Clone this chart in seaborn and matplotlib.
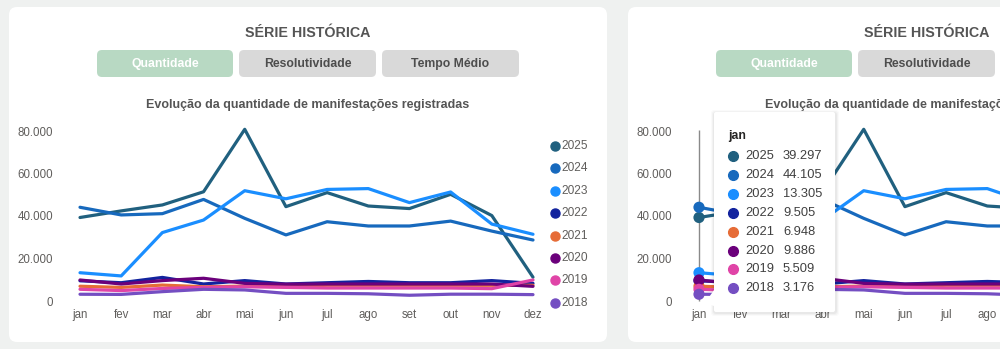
import numpy as np
import pandas as pd
import matplotlib
matplotlib.use('Agg')
import matplotlib.pyplot as plt
import seaborn as sns
from matplotlib.patches import FancyBboxPatch, Polygon
from matplotlib.lines import Line2D

# dados
meses = ['jan', 'fev', 'mar', 'abr', 'mai', 'jun', 'jul', 'ago', 'set', 'out', 'nov', 'dez']
anos = ['2025', '2024', '2023', '2022', '2021', '2020', '2019', '2018']
q2025 = [39297, 42400, 45200, 51400, 80800, 44400, 51000, 44700, 43500, 50200, 40200, 11200]
q2024 = [44105, 40500, 41100, 47800, 38900, 31100, 37300, 35300, 35300, 37600, 32900, 28700]
q2023 = [13305, 11800, 32200, 38100, 51900, 48100, 52500, 52900, 46300, 51300, 36200, 31400]
q2022 = [9505, 8600, 11100, 8000, 9600, 8000, 8600, 9200, 8600, 8600, 9600, 8300]
q2021 = [6948, 6400, 7500, 6700, 7000, 6700, 7400, 7400, 7400, 7400, 7400, 7400]
q2020 = [9886, 8000, 9600, 10700, 8300, 7900, 8000, 8000, 8000, 8000, 8000, 6900]
q2019 = [5509, 4900, 5900, 6400, 6700, 6400, 6100, 6100, 6100, 6100, 5800, 9900]
q2018 = [3176, 3100, 4400, 5500, 5200, 3600, 3600, 3400, 2700, 3200, 3200, 3000]
y_ticks = [0, 20000, 40000, 60000, 80000]
y_labels = ['0', '20.000', '40.000', '60.000', '80.000']
botoes = ['Quantidade', 'Resolutividade', 'Tempo Médio']

cores = ['#20607f', '#1769bd', '#1a8eff', '#12239e', '#e66c37', '#6b007b', '#e044a7', '#744ec2']
pal = dict(zip(anos, cores))

series = [q2025, q2024, q2023, q2022, q2021, q2020, q2019, q2018]
df = pd.concat([pd.DataFrame({'mes': meses, 'valor': s, 'ano': a}) for a, s in zip(anos, series)],
               ignore_index=True)

sns.set_style('white')
plt.rcParams['font.family'] = ['Liberation Sans', 'DejaVu Sans']

W, H = 1000, 349
fig = plt.figure(figsize=(10, 3.49), dpi=100, facecolor='#eff1f0')


def box(x0, y0, x1, y1, color, r=0.08, z=-5, **kw):
    # retangulo arredondado em pixels (origem no topo)
    p = FancyBboxPatch((x0 / 100, (H - y1) / 100), (x1 - x0) / 100, (y1 - y0) / 100,
                       boxstyle=f'round,pad=0,rounding_size={r}', transform=fig.dpi_scale_trans,
                       facecolor=color, edgecolor='none', zorder=z, **kw)
    fig.add_artist(p)
    return p


def txt(x, y, s, **kw):
    return fig.text(x / W, 1 - y / H, s, **kw)


def painel(dx, legenda=True):
    box(9 + dx, 7, 607 + dx, 342, 'white')
    txt(308 + dx, 33, 'SÉRIE HISTÓRICA', ha='center', va='center', fontsize=10.3, fontweight='bold',
        color='#555555')
    bx = [(97, 233), (239, 376), (382, 519)]
    for i, (b, (a0, a1)) in enumerate(zip(botoes, bx)):
        cor = '#b8d9c3' if i == 0 else '#d9d9d9'
        box(a0 + dx, 50, a1 + dx, 77, cor, r=0.05, z=-4)
        txt((a0 + a1) / 2 + dx, 64, b, ha='center', va='center', fontsize=8.8, fontweight='bold',
            color='white' if i == 0 else '#4d4d4d')
    txt(308 + dx, 105, 'Evolução da quantidade de manifestações registradas', ha='center', va='center',
        fontsize=9, fontweight='bold', color='#555555')

    # eixo: jan em x=80px, passo 41.18px; 0 em y=301px, 2.125px por mil
    step = 41.18
    left = 80 - 0.25 * step + dx
    right = 533 + 0.25 * step + dx
    bot = 301 + 2 * 2.125
    top = 301 - 84 * 2.125
    ax = fig.add_axes([left / W, 1 - bot / H, (right - left) / W, (bot - top) / H])
    ax.patch.set_alpha(0)
    sns.lineplot(data=df, x='mes', y='valor', hue='ano', hue_order=anos, palette=pal,
                 linewidth=2.3, legend=False, ax=ax)
    ax.set_xlim(-0.25, 11.25)
    ax.set_ylim(-2000, 84000)
    ax.set_yticks(y_ticks)
    ax.set_yticklabels(y_labels)
    ax.tick_params(axis='y', length=0, pad=12, labelsize=8.3, labelcolor='#605e5c')
    ax.tick_params(axis='x', length=0, pad=3, labelsize=8.3, labelcolor='#605e5c')
    sns.despine(ax=ax, left=True, bottom=True)

    if legenda:
        for i, a in enumerate(anos):
            yy = 146 + i * 22.4
            fig.add_artist(Line2D([555 / W], [1 - yy / H], marker='o', markersize=6.5, color=pal[a],
                                  transform=fig.transFigure))
            txt(561, yy, a, ha='left', va='center', fontsize=8.6, color='#605e5c')
    return ax


ax1 = painel(0)
ax2 = painel(619, legenda=False)

# tooltip em jan no painel da direita
ax2.vlines(0, 0, 80500, color='#8a8a8a', linewidth=1, zorder=3)
jan = df[df['mes'] == 'jan']
sns.scatterplot(data=jan, x='mes', y='valor', hue='ano', hue_order=anos, palette=pal, s=65,
                edgecolor='none', legend=False, zorder=4, ax=ax2)
ax2.set_xticks(range(len(meses)))
ax2.set_xticklabels([m if i < 8 else '' for i, m in enumerate(meses)])
for ax in (ax1, ax2):
    ax.set_xlabel('')
    ax.set_ylabel('')

for k, a in enumerate([0.04, 0.03, 0.02]):
    box(714 - 1 - k, 112 - k, 835 + 2 + k, 312 + 2 + k, 'black', r=0.03, z=5, alpha=a)
box(714, 112, 835, 312, 'white', r=0.02, z=6)
fig.add_artist(Polygon([(714 / W, 1 - 290 / H), (714 / W, 1 - 306 / H), (705 / W, 1 - 303 / H)],
                       closed=True, facecolor='white', edgecolor='none', transform=fig.transFigure,
                       zorder=6))
txt(728, 136, 'jan', ha='left', va='center', fontsize=8.8, fontweight='bold', color='#252423', zorder=7)
for i, a in enumerate(anos):
    yy = 156 + i * 18.9
    v = int(jan.loc[jan['ano'] == a, 'valor'].iloc[0])
    fig.add_artist(Line2D([733 / W], [1 - yy / H], marker='o', markersize=7, color=pal[a],
                          transform=fig.transFigure, zorder=7))
    txt(745, yy, a, ha='left', va='center', fontsize=9.3, color='#404040', zorder=7)
    txt(783, yy, f'{v:,}'.replace(',', '.'), ha='left', va='center', fontsize=9.3, color='#404040', zorder=7)

fig.savefig('out.png', dpi=100, facecolor=fig.get_facecolor())
